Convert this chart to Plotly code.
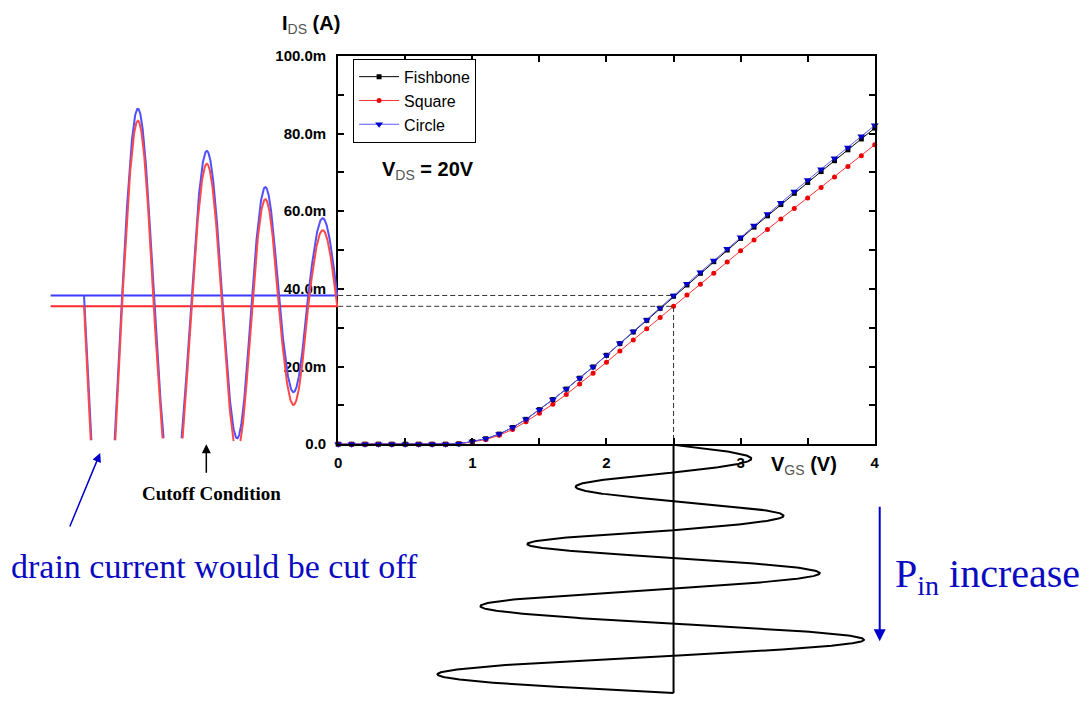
import numpy as np
import plotly.graph_objects as go

W, H = 1090, 702

# ---------------- main transfer-curve data (V_GS in V, I_DS in mA) ----------------
vgs = [0.0, 0.1, 0.2, 0.3, 0.4, 0.5, 0.6, 0.7, 0.8, 0.9,
       1.0, 1.1, 1.2, 1.3, 1.4, 1.5, 1.6, 1.7, 1.8, 1.9,
       2.0, 2.1, 2.2, 2.3, 2.4, 2.5, 2.6, 2.7, 2.8, 2.9,
       3.0, 3.1, 3.2, 3.3, 3.4, 3.5, 3.6, 3.7, 3.8, 3.9, 4.0]

fishbone_ma = [0, 0, 0, 0, 0, 0, 0, 0, 0, 0.1,
               0.7, 1.4, 2.6, 4.3, 6.4, 8.9, 11.5, 14.2, 17.0, 19.9,
               22.9, 25.9, 28.9, 31.9, 35.0, 38.1, 41.0, 44.0, 47.0, 50.0,
               53.0, 55.9, 58.8, 61.7, 64.6, 67.4, 70.2, 73.0, 75.8, 78.6, 81.4]

square_ma = [0, 0, 0, 0, 0, 0, 0, 0, 0, 0.1,
             0.6, 1.2, 2.3, 3.8, 5.8, 8.0, 10.3, 12.8, 15.5, 18.3,
             21.1, 24.0, 26.8, 29.7, 32.6, 35.5, 38.4, 41.2, 44.0, 46.9,
             49.8, 52.6, 55.3, 58.0, 60.7, 63.4, 66.1, 68.8, 71.5, 74.3, 77.1]

circle_ma = [0, 0, 0, 0, 0, 0, 0, 0, 0, 0.1,
             0.7, 1.4, 2.6, 4.3, 6.4, 8.9, 11.5, 14.2, 17.0, 19.9,
             22.9, 26.0, 29.0, 32.0, 35.1, 38.3, 41.3, 44.3, 47.3, 50.3,
             53.3, 56.3, 59.3, 62.2, 65.1, 68.0, 70.8, 73.6, 76.4, 79.3, 82.1]

series_names = ["Fishbone", "Square", "Circle"]

x_tickvals = [0, 0.5, 1, 1.5, 2, 2.5, 3, 3.5, 4]
x_ticktext = ["0", "", "1", "", "2", "", "3", "", "4"]
y_tickvals = [0, 10, 20, 30, 40, 50, 60, 70, 80, 90, 100]
y_ticktext = ["0.0", "", "20.0m", "", "40.0m", "", "60.0m", "", "80.0m", "", "100.0m"]

# bias point
vgs_bias = 2.5

# ---------------- left illustration: drain current waveform (time in px, current in mA) ----------------
left_cross_t = [80.7, 119, 151, 189, 220, 250, 277, 306.7, 336]
left_blue_ext = [-27, 86.4, -12, 75.5, 1.5, 66.2, 13.4, 58.2]
left_red_ext = [-30, 83.3, -15, 72.2, -1.5, 63.1, 10.1, 55.1]
left_line_start = 47
cutoff_ma = 0.8

# ---------------- bottom illustration: gate voltage waveform (V, time in px) ----------------
bottom_cross_t = [446.7, 475, 504.3, 534.3, 562.3, 594, 630, 662.7, 701]
bottom_peak_v = [3.08, 1.77, 3.32, 1.41, 3.59, 1.06, 3.92, 0.74]

# -----------------------------------------------------------------------------------
i_bias = vgs.index(vgs_bias)
blue_center = circle_ma[i_bias]
red_center = square_ma[i_bias]


def wave(cross, ext, center, n=120):
    ts, vs = [], []
    for k in range(len(ext)):
        t0, t1 = cross[k], cross[k + 1]
        t = np.linspace(t0, t1, n)
        v = center + (ext[k] - center) * np.sin(np.pi * (t - t0) / (t1 - t0))
        if k > 0:
            t, v = t[1:], v[1:]
        ts.append(t)
        vs.append(v)
    return np.concatenate(ts), np.concatenate(vs)


fig = go.Figure()

FONT = "Liberation Sans"
SERIF = "Liberation Serif"

# main series
fig.add_trace(go.Scatter(x=vgs, y=fishbone_ma, name=series_names[0], mode="lines+markers",
                         line=dict(color="black", width=1),
                         marker=dict(symbol="square", size=5, color="black"),
                         cliponaxis=False))
fig.add_trace(go.Scatter(x=vgs, y=square_ma, name=series_names[1], mode="lines+markers",
                         line=dict(color="#ff3030", width=1),
                         marker=dict(symbol="circle", size=5, color="#ee0000"),
                         cliponaxis=False))
fig.add_trace(go.Scatter(x=vgs, y=circle_ma, name=series_names[2], mode="lines+markers",
                         line=dict(color="#5a5aff", width=1),
                         marker=dict(symbol="triangle-down", size=7, color="#0000cc"),
                         cliponaxis=False))

# dashed guide lines
fig.add_trace(go.Scatter(x=[0, vgs_bias], y=[blue_center, blue_center], mode="lines",
                         line=dict(color="#333333", width=1, dash="5px,3px"), showlegend=False))
fig.add_trace(go.Scatter(x=[0, vgs_bias, vgs_bias], y=[red_center, red_center, 0], mode="lines",
                         line=dict(color="#333333", width=1, dash="5px,3px"), showlegend=False))

# left waveform (blue then red)
tb, vb = wave(left_cross_t, left_blue_ext, blue_center)
tr, vr = wave(left_cross_t, left_red_ext, red_center)
vb = np.where(vb < cutoff_ma, np.nan, vb)
vr = np.where(vr < cutoff_ma, np.nan, vr)
fig.add_trace(go.Scatter(x=[left_line_start, left_cross_t[-1] + 1], y=[blue_center, blue_center],
                         mode="lines", line=dict(color="#3c3cff", width=2), showlegend=False,
                         xaxis="x3", yaxis="y"))
fig.add_trace(go.Scatter(x=[left_line_start, left_cross_t[-1] + 1], y=[red_center, red_center],
                         mode="lines", line=dict(color="#ff2a2a", width=2), showlegend=False,
                         xaxis="x3", yaxis="y"))
fig.add_trace(go.Scatter(x=tb, y=vb, mode="lines", line=dict(color="#5050ff", width=2),
                         showlegend=False, xaxis="x3", yaxis="y"))
fig.add_trace(go.Scatter(x=tr, y=vr, mode="lines", line=dict(color="#ff4848", width=2),
                         showlegend=False, xaxis="x3", yaxis="y"))

# bottom waveform
tv, vv = wave(bottom_cross_t, bottom_peak_v, vgs_bias)
fig.add_trace(go.Scatter(x=[vgs_bias, vgs_bias], y=[bottom_cross_t[0], bottom_cross_t[-1]],
                         mode="lines", line=dict(color="black", width=2), showlegend=False,
                         xaxis="x", yaxis="y3"))
fig.add_trace(go.Scatter(x=vv, y=tv, mode="lines", line=dict(color="black", width=2),
                         showlegend=False, xaxis="x", yaxis="y3"))


def px(x):
    return x / W


def py(y):
    return 1 - y / H


BLUE_TXT = "#0a0ac0"
annotations = [
    dict(x=px(278), y=py(16), xanchor="left", yanchor="middle",
         text="<b>I</b><sub><span style='color:#555555'>DS</span></sub><b> (A)</b>",
         font=dict(family=FONT, size=20, color="black")),
    dict(x=px(379), y=py(166), xanchor="left", yanchor="middle",
         text="<b>V</b><sub><span style='color:#555555'>DS</span></sub><b> = 20V</b>",
         font=dict(family=FONT, size=20, color="black")),
    dict(x=px(771), y=py(468), xanchor="left", yanchor="middle",
         text="<b>V</b><sub><span style='color:#555555'>GS</span></sub><b> (V)</b>",
         font=dict(family=FONT, size=20, color="black")),
    dict(x=px(209), y=py(497), xanchor="center", yanchor="middle",
         text="Cutoff Condition",
         font=dict(family=SERIF, size=19, color="black", weight="bold")),
    dict(x=px(5), y=py(571), xanchor="left", yanchor="middle",
         text="drain current would be cut off",
         font=dict(family=SERIF, size=34, color=BLUE_TXT)),
    dict(x=px(896), y=py(581), xanchor="left", yanchor="middle",
         text="P<sub>in</sub> increase",
         font=dict(family=SERIF, size=40, color=BLUE_TXT)),
    # arrows
    dict(x=px(97), y=py(455), ax=66 - 97, ay=530 - 455, text="", showarrow=True,
         arrowhead=2, arrowsize=1.2, arrowwidth=1.5, arrowcolor="#0000cc"),
    dict(x=px(204), y=py(446), ax=0, ay=30, text="", showarrow=True,
         arrowhead=2, arrowsize=1.2, arrowwidth=1.5, arrowcolor="black"),
    dict(x=px(883), y=py(648), ax=0, ay=512 - 648, text="", showarrow=True,
         arrowhead=2, arrowsize=1.2, arrowwidth=2, arrowcolor="#0000cc"),
]
for a in annotations:
    a.setdefault("xref", "paper")
    a.setdefault("yref", "paper")
    a.setdefault("showarrow", False)

axis_common = dict(showgrid=False, zeroline=False, showline=True, linecolor="black", linewidth=2,
                   ticks="inside", ticklen=6, tickwidth=1.5, tickcolor="black", mirror="ticks",
                   tickfont=dict(family=FONT, size=15, color="black", weight="bold"))

fig.update_layout(
    width=W, height=H, autosize=False,
    margin=dict(l=0, r=0, t=0, b=0, pad=0),
    paper_bgcolor="white", plot_bgcolor="rgba(0,0,0,0)",
    xaxis=dict(domain=[337 / W, 878 / W], range=[0, 4], tickvals=x_tickvals, ticktext=x_ticktext,
               anchor="y", ticklabelstandoff=4, **axis_common),
    yaxis=dict(domain=[1 - 446 / H, 1 - 48 / H], range=[0, 100], tickvals=y_tickvals,
               ticktext=y_ticktext, anchor="x", ticklabelstandoff=7, **axis_common),
    xaxis3=dict(domain=[0, 1], range=[0, W], visible=False, anchor="y"),
    yaxis3=dict(domain=[0, 1], range=[H, 0], visible=False, anchor="x"),
    showlegend=True,
    legend=dict(x=px(352), y=py(51), xanchor="left", yanchor="top",
                bordercolor="black", borderwidth=1, bgcolor="white",
                font=dict(family=FONT, size=16, color="black"), traceorder="normal",
                itemwidth=40),
    annotations=annotations,
)

fig.write_html("out.html", config={"displayModeBar": False})
